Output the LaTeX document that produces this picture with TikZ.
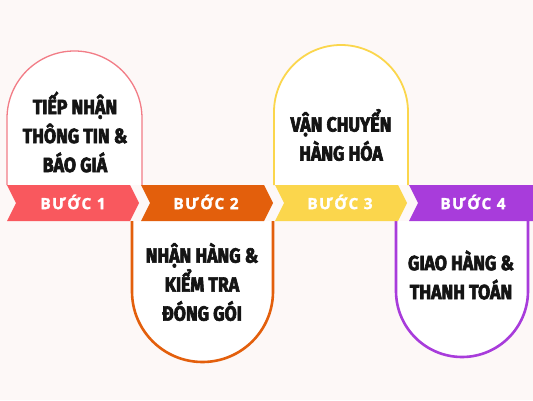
\documentclass[tikz,border=0pt]{standalone}
\usepackage{fontspec}
\newfontfamily\cardfont[FakeStretch=0.86,BoldFeatures={FakeBold=3}]{Fira Sans}
\newfontfamily\stepfont[LetterSpace=9,BoldFeatures={FakeBold=1.5}]{Open Sans}
\definecolor{bgpaper}{HTML}{FDF8F7}
\definecolor{stepone}{HTML}{F9585E}
\definecolor{steptwo}{HTML}{E35F0C}
\definecolor{stepthree}{HTML}{FBD64C}
\definecolor{stepfour}{HTML}{A83CDB}
\definecolor{cardone}{HTML}{F27C86}

\begin{document}
\begin{tikzpicture}[x=1pt,y=1pt,
  cardtext/.style={align=center,text=black!92,font=\cardfont\bfseries\fontsize{20.5}{29}\selectfont},
  steptext/.style={text=white,font=\stepfont\bfseries\fontsize{15.5}{16}\selectfont}]

\fill[bgpaper] (0,0) rectangle (533,400);
\useasboundingbox (0,0) rectangle (533,400);

\coordinate (A) at (7,215);
\coordinate (B) at (132,179);
\coordinate (C) at (274,215);
\coordinate (D) at (396,179);

\filldraw[fill=white,draw=cardone,line width=1.3pt] (A) -- ++(0,66.5) arc (180:0:67.5) -- (142,215);
\filldraw[fill=white,draw=steptwo,line width=2.6pt] (B) -- ++(0,-70.5) arc (180:360:70.5) -- (273,179);
\filldraw[fill=white,draw=stepthree,line width=1.8pt] (C) -- ++(0,73) arc (180:0:67) -- (408,215);
\filldraw[fill=white,draw=stepfour,line width=2.6pt] (D) -- ++(0,-70) arc (180:360:66) -- (528,179);

\fill[stepone] (7,215) -- (130,215) -- (139,197) -- (130,179) -- (7,179) -- (16,197) -- cycle;
\fill[steptwo] (141,215) -- (264,215) -- (273,197) -- (264,179) -- (141,179) -- (150,197) -- cycle;
\fill[stepthree] (275,215) -- (398,215) -- (407,197) -- (398,179) -- (275,179) -- (284,197) -- cycle;
\fill[stepfour] (409,215) -- (533,215) -- (533,179) -- (409,179) -- (418,197) -- cycle;

\node[steptext] (s1) at (73,198) {BƯỚC 1};
\node[steptext] (s2) at (206,198) {BƯỚC 2};
\node[steptext] (s3) at (340,198) {BƯỚC 3};
\node[steptext] (s4) at (473,198) {BƯỚC 4};

\node[cardtext] (c1) at (75,268) {TIẾP NHẬN\\THÔNG TIN \&\\BÁO GIÁ};
\node[cardtext] (c2) at (202,118) {NHẬN HÀNG \&\\KIỂM TRA\\ĐÓNG GÓI};
\node[cardtext] (c3) at (341,265) {VẬN CHUYỂN\\HÀNG HÓA};
\node[cardtext] (c4) at (461,125) {GIAO HÀNG \&\\THANH TOÁN};

\end{tikzpicture}
\end{document}
